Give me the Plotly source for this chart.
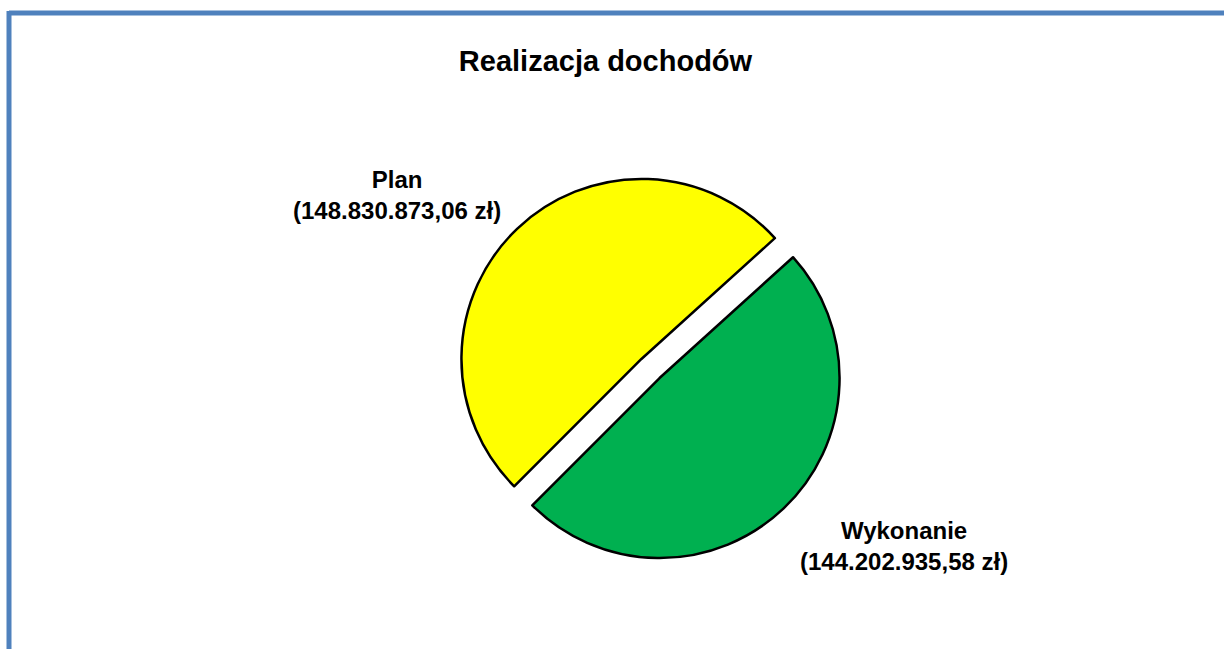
import plotly.graph_objects as go

# ---- data ----
categories = ["Plan", "Wykonanie"]
values = [148830873.06, 144202935.58]
colors = ["#FFFF00", "#00B050"]
title_text = "Realizacja dochodów"


def fmt_pl(v):
    s = f"{v:,.2f}"
    return s.replace(",", "X").replace(".", ",").replace("X", ".")


W, H = 1224, 649
FONT = "Liberation Sans, Arial, sans-serif"

# pie geometry (pixels)
cx, cy, r, pull = 650.5, 368.5, 180.0, 0.073
half = r * (1 + pull)

fig = go.Figure()
fig.add_trace(go.Pie(
    labels=categories,
    values=values,
    sort=False,
    direction="clockwise",
    rotation=-135.0,
    pull=[pull, pull],
    marker=dict(colors=colors, line=dict(color="#000000", width=2.5)),
    textinfo="none",
    hoverinfo="label+value",
    showlegend=False,
    domain=dict(x=[(cx - half) / W, (cx + half) / W],
                y=[(H - (cy + half)) / H, (H - (cy - half)) / H]),
))

# labels for slices
label_pos = [(397, 195), (904, 546)]
annotations = []
for name, v, (lx, ly) in zip(categories, values, label_pos):
    annotations.append(dict(
        text=f"<b>{name}</b><br><b>({fmt_pl(v)} zł)</b>",
        x=lx / W, y=1 - ly / H, xref="paper", yref="paper",
        xanchor="center", yanchor="middle", showarrow=False,
        align="center",
        font=dict(family=FONT, size=24, color="#000000"),
    ))

fig.update_layout(
    width=W, height=H,
    margin=dict(l=0, r=0, t=0, b=0),
    paper_bgcolor="#FFFFFF",
    plot_bgcolor="#FFFFFF",
    title=dict(text=f"<b>{title_text}</b>", x=605.5 / W, xanchor="center",
               y=1 - 61 / H, yanchor="middle", xref="paper", yref="container",
               font=dict(family=FONT, size=29, color="#000000")),
    annotations=annotations,
    shapes=[
        dict(type="line", xref="paper", yref="paper",
             x0=9 / W, x1=1.02, y0=1 - 13 / H, y1=1 - 13 / H,
             line=dict(color="#4F81BD", width=5)),
        dict(type="line", xref="paper", yref="paper",
             x0=9 / W, x1=9 / W, y0=-0.02, y1=1 - 11 / H,
             line=dict(color="#4F81BD", width=5)),
    ],
)

fig.write_html("out.html",
               config={"displayModeBar": False},
               post_script="document.body.style.margin='0px';document.body.style.overflow='hidden';")
